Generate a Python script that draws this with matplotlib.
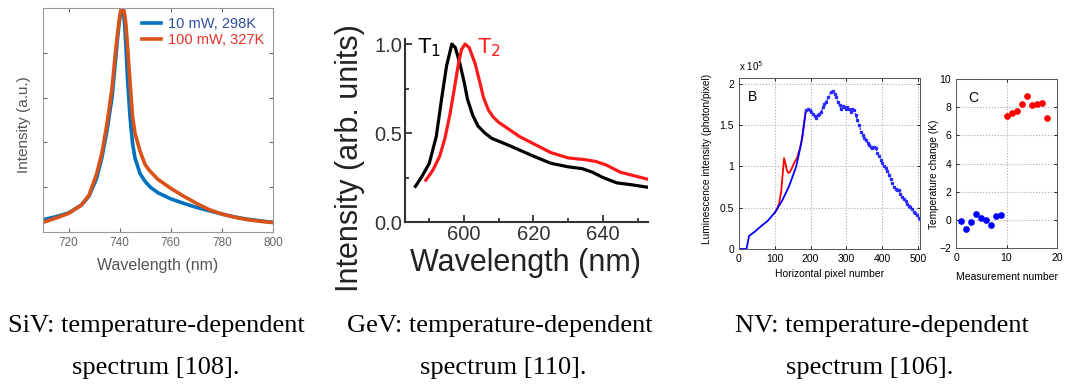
import numpy as np
import matplotlib
matplotlib.use("Agg")
import matplotlib.pyplot as plt
from matplotlib.ticker import MultipleLocator, FormatStrFormatter

plt.rcParams['font.family'] = ['Liberation Sans', 'DejaVu Sans']

# --- SiV panel: spectra at two powers ---
siv_wl = [710, 715, 720, 725, 728, 731, 733, 735, 737, 738.5, 739.3, 740, 740.5, 741, 741.5,
          742, 742.5, 743, 744, 745, 746, 748, 750, 752, 755, 760, 765, 770, 775, 780, 785,
          790, 795, 800]
siv_low = [0.055, 0.068, 0.085, 0.12, 0.16, 0.24, 0.33, 0.45, 0.60, 0.78, 0.88, 0.95, 0.99,
           1.0, 0.98, 0.92, 0.82, 0.70, 0.52, 0.40, 0.33, 0.26, 0.225, 0.20, 0.175, 0.148,
           0.128, 0.11, 0.095, 0.08, 0.067, 0.057, 0.05, 0.043]
siv_high = [0.043, 0.062, 0.083, 0.12, 0.165, 0.26, 0.35, 0.48, 0.64, 0.82, 0.90, 0.96, 0.99,
            1.0, 0.995, 0.97, 0.92, 0.84, 0.68, 0.52, 0.44, 0.36, 0.30, 0.27, 0.235, 0.195,
            0.16, 0.128, 0.10, 0.08, 0.066, 0.055, 0.048, 0.042]
siv_labels = ['10 mW, 298K', '100 mW, 327K']

# --- GeV panel: T1 / T2 spectra ---
gev_t1_wl = [586, 588, 590, 592, 593.6, 595, 596.5, 597.5, 598.8, 600, 601, 602.5, 604, 606, 608,
             613, 620, 625, 630, 634, 637, 640, 644, 648, 653]
gev_t1 = [0.20, 0.26, 0.33, 0.48, 0.70, 0.88, 1.0, 0.98, 0.89, 0.79, 0.69, 0.60, 0.54, 0.50, 0.47,
          0.43, 0.37, 0.33, 0.31, 0.30, 0.28, 0.25, 0.22, 0.21, 0.195]
gev_t2_wl = [589, 591, 593, 594.5, 596, 597.3, 598.4, 599.3, 600.3, 601.5, 603.2, 604.5, 605.6, 607,
             608.4, 610, 613, 616, 620, 625, 630, 635, 638, 641, 645, 649, 653]
gev_t2 = [0.235, 0.29, 0.37, 0.47, 0.61, 0.76, 0.89, 0.97, 1.0, 0.98, 0.89, 0.79, 0.70, 0.63,
          0.59, 0.56, 0.52, 0.48, 0.44, 0.39, 0.36, 0.35, 0.34, 0.32, 0.28, 0.26, 0.24]

# --- NV panel B: luminescence profile (units of 1e5) ---
nv_px = [0, 10, 21, 28, 44, 60, 80, 100, 120, 140, 160, 175, 187, 193, 198, 202, 207, 212, 216,
         220, 225, 230, 235, 239, 244, 250, 257, 262, 267, 272, 276, 281, 285, 290, 294, 299,
         303, 308, 313, 317, 322, 327, 331, 336, 341, 346, 350, 355, 360, 364, 369, 373, 378,
         382, 387, 392, 397, 401, 405, 410, 415, 420, 424, 428, 433, 438, 442, 447, 451, 456,
         461, 466, 470, 475, 479, 484, 489, 493, 498, 502, 506]
nv_lum = [0, 0, 0, 0.157, 0.21, 0.27, 0.34, 0.44, 0.58, 0.76, 1.0, 1.3, 1.68, 1.69, 1.68, 1.66,
          1.64, 1.61, 1.59, 1.62, 1.64, 1.66, 1.72, 1.76, 1.78, 1.84, 1.90, 1.91, 1.88, 1.84,
          1.78, 1.74, 1.70, 1.73, 1.72, 1.70, 1.72, 1.69, 1.66, 1.70, 1.68, 1.62, 1.56, 1.50,
          1.42, 1.38, 1.34, 1.32, 1.28, 1.26, 1.24, 1.22, 1.24, 1.22, 1.16, 1.12, 1.08, 1.04,
          1.00, 0.98, 0.95, 0.90, 0.85, 0.80, 0.75, 0.73, 0.72, 0.71, 0.67, 0.63, 0.61, 0.58,
          0.55, 0.52, 0.51, 0.48, 0.45, 0.44, 0.41, 0.37, 0.36]
nv_heat_px = [100, 106, 112, 118, 122, 126, 130, 134, 138, 142, 148, 155, 162, 170, 178, 187]
nv_heat_lum = [0.44, 0.48, 0.55, 0.70, 0.90, 1.10, 1.03, 0.95, 0.92, 0.93, 0.98, 1.05, 1.10,
               1.21, 1.38, 1.68]

# --- NV panel C: temperature change per measurement ---
meas_a = [1, 2, 3, 4, 5, 6, 7, 8, 9]
dT_a = [-0.08, -0.65, -0.15, 0.4, 0.15, 0.0, -0.35, 0.3, 0.35]
meas_b = [10, 11, 12, 13, 14, 15, 16, 17, 18]
dT_b = [7.4, 7.6, 7.7, 8.2, 8.8, 8.15, 8.2, 8.3, 7.2]

captions = [("SiV: temperature-dependent", "spectrum [108]."),
            ("GeV: temperature-dependent", "spectrum [110]."),
            ("NV: temperature-dependent", "spectrum [106].")]

W, H = 1065, 392
fig = plt.figure(figsize=(W / 100, H / 100), dpi=100)


def axes_px(left, top, right, bottom):
    return fig.add_axes([left / W, 1 - bottom / H, (right - left) / W, (bottom - top) / H])


# ---------------- SiV ----------------
ax1 = axes_px(43, 8, 273, 232)
grey = '#666666'
ax1.plot(siv_wl, siv_low, color='#0072BD', lw=2.6, label=siv_labels[0])
ax1.plot(siv_wl, siv_high, color='#D95319', lw=2.6, label=siv_labels[1])
ax1.set_xlim(710, 800)
ax1.set_ylim(0, 1.0)
ax1.set_xticks([720, 740, 760, 780, 800])
ax1.set_yticks([0.2, 0.4, 0.6, 0.8])
ax1.set_yticklabels([])
ax1.tick_params(direction='in', length=3, colors=grey, labelsize=8.5, width=0.8,
                top=True, right=True)
for s in ax1.spines.values():
    s.set_color('#999999')
ax1.set_xlabel('Wavelength (nm)', fontsize=11.5, color='#555555')
ax1.xaxis.set_label_coords(0.5, -0.115)
ax1.set_ylabel('Intensity (a.u.)', fontsize=11, color='#555555')
ax1.yaxis.set_label_coords(-0.05, 0.48)
leg = ax1.legend(loc='upper right', frameon=False, fontsize=10.5, handlelength=1.3,
                 handletextpad=0.5, borderaxespad=0.2, labelspacing=0.15)
for t, c in zip(leg.get_texts(), ['#2d4fa0', '#e8322a']):
    t.set_color(c)

# ---------------- GeV ----------------
ax2 = axes_px(405, 38.7, 648, 222)
ax2.plot(gev_t1_wl, gev_t1, color='black', lw=2.3)
ax2.plot(gev_t2_wl, gev_t2, color='#ff1a1a', lw=2.3)
ax2.set_xlim(583, 653)
ax2.set_ylim(0, 1.03)
ax2.xaxis.set_major_locator(MultipleLocator(20))
ax2.xaxis.set_minor_locator(MultipleLocator(10))
ax2.yaxis.set_major_locator(MultipleLocator(0.5))
ax2.yaxis.set_minor_locator(MultipleLocator(0.25))
ax2.yaxis.set_major_formatter(FormatStrFormatter('%.1f'))
ax2.tick_params(which='both', direction='in', color='#333333', width=1.3)
ax2.tick_params(which='major', length=5, labelsize=14.5, labelcolor='#333333', pad=2)
ax2.tick_params(which='minor', length=3)
ax2.spines['top'].set_visible(False)
ax2.spines['right'].set_visible(False)
for s in ('left', 'bottom'):
    ax2.spines[s].set_color('#333333')
    ax2.spines[s].set_linewidth(1.5)
ax2.set_xlabel('Wavelength (nm)', fontsize=22, color='#222222')
ax2.xaxis.set_label_coords(0.494, -0.14)
ax2.set_ylabel('Intensity (arb. units)', fontsize=22, color='#222222')
ax2.yaxis.set_label_coords(-0.165, 0.35)
ax2.text(586.5, 0.98, 'T$_1$', fontsize=16, color='black', va='center')
ax2.text(603.7, 0.98, 'T$_2$', fontsize=16, color='#ff1a1a', va='center')

# ---------------- NV B ----------------
ax3 = axes_px(739, 78, 920, 249)
ax3.plot(nv_heat_px, nv_heat_lum, color='#ff0000', lw=1.3)
px = np.array(nv_px)
lum = np.array(nv_lum)
smooth = px <= 187
rough = px >= 187
ax3.plot(px[smooth], lum[smooth], color='#0000ff', lw=1.3)
ax3.plot(px[rough], lum[rough], color='#2a2aff', lw=0.9,
         ls=(0, (2, 1)), marker='s', ms=1.4)
ax3.set_xlim(0, 506)
ax3.set_ylim(0, 2.07)
ax3.set_xticks([0, 100, 200, 300, 400, 500])
ax3.set_yticks([0, 0.5, 1, 1.5, 2])
ax3.set_yticklabels(['0', '0.5', '1', '1.5', '2'])
ax3.grid(True, ls=':', color='#aaaaaa', lw=0.8)
ax3.tick_params(direction='in', length=2.5, labelsize=7.5, top=True, right=True, width=0.6)
for s in ax3.spines.values():
    s.set_linewidth(0.7)
    s.set_color('#555555')
ax3.set_xlabel('Horizontal pixel number', fontsize=7.5)
ax3.xaxis.set_label_coords(0.503, -0.117)
ax3.set_ylabel('Luminescence intensity (photon/pixel)', fontsize=7.3)
ax3.yaxis.set_label_coords(-0.151, 0.526)
ax3.text(0.05, 0.93, 'B', transform=ax3.transAxes, fontsize=10, va='top')
ax3.text(0.0, 1.03, r'x 10$^5$', transform=ax3.transAxes, fontsize=7, va='bottom')

# ---------------- NV C ----------------
ax4 = axes_px(956, 79, 1057, 248)
ax4.plot(meas_a, dT_a, 'o', color='#0000ff', ms=3.8)
ax4.plot(meas_b, dT_b, 'o', color='#ff0000', ms=3.8)
ax4.set_xlim(0, 20)
ax4.set_ylim(-2, 10)
ax4.set_xticks([0, 10, 20])
ax4.set_yticks([-2, 0, 2, 4, 6, 8, 10])
ax4.grid(True, ls=':', color='#aaaaaa', lw=0.8)
ax4.tick_params(direction='in', length=2.5, labelsize=7.5, top=True, right=True, width=0.6)
for s in ax4.spines.values():
    s.set_linewidth(0.7)
    s.set_color('#555555')
ax4.set_xlabel('Measurement number', fontsize=7.5)
ax4.xaxis.set_label_coords(0.505, -0.14)
ax4.set_ylabel('Temperature change (K)', fontsize=7.3)
ax4.yaxis.set_label_coords(-0.168, 0.438)
ax4.text(0.12, 0.93, 'C', transform=ax4.transAxes, fontsize=10, va='top')

# ---------------- captions ----------------
cap_x = [(156, 156), (500, 503), (882, 870)]
for (l1, l2), (cx1, cx2) in zip(captions, cap_x):
    fig.text(cx1 / W, 1 - 326 / H, l1, ha='center', va='center', fontsize=19,
             family='Liberation Serif')
    fig.text(cx2 / W, 1 - 368 / H, l2, ha='center', va='center', fontsize=19,
             family='Liberation Serif')

fig.savefig('out.png', dpi=100)
